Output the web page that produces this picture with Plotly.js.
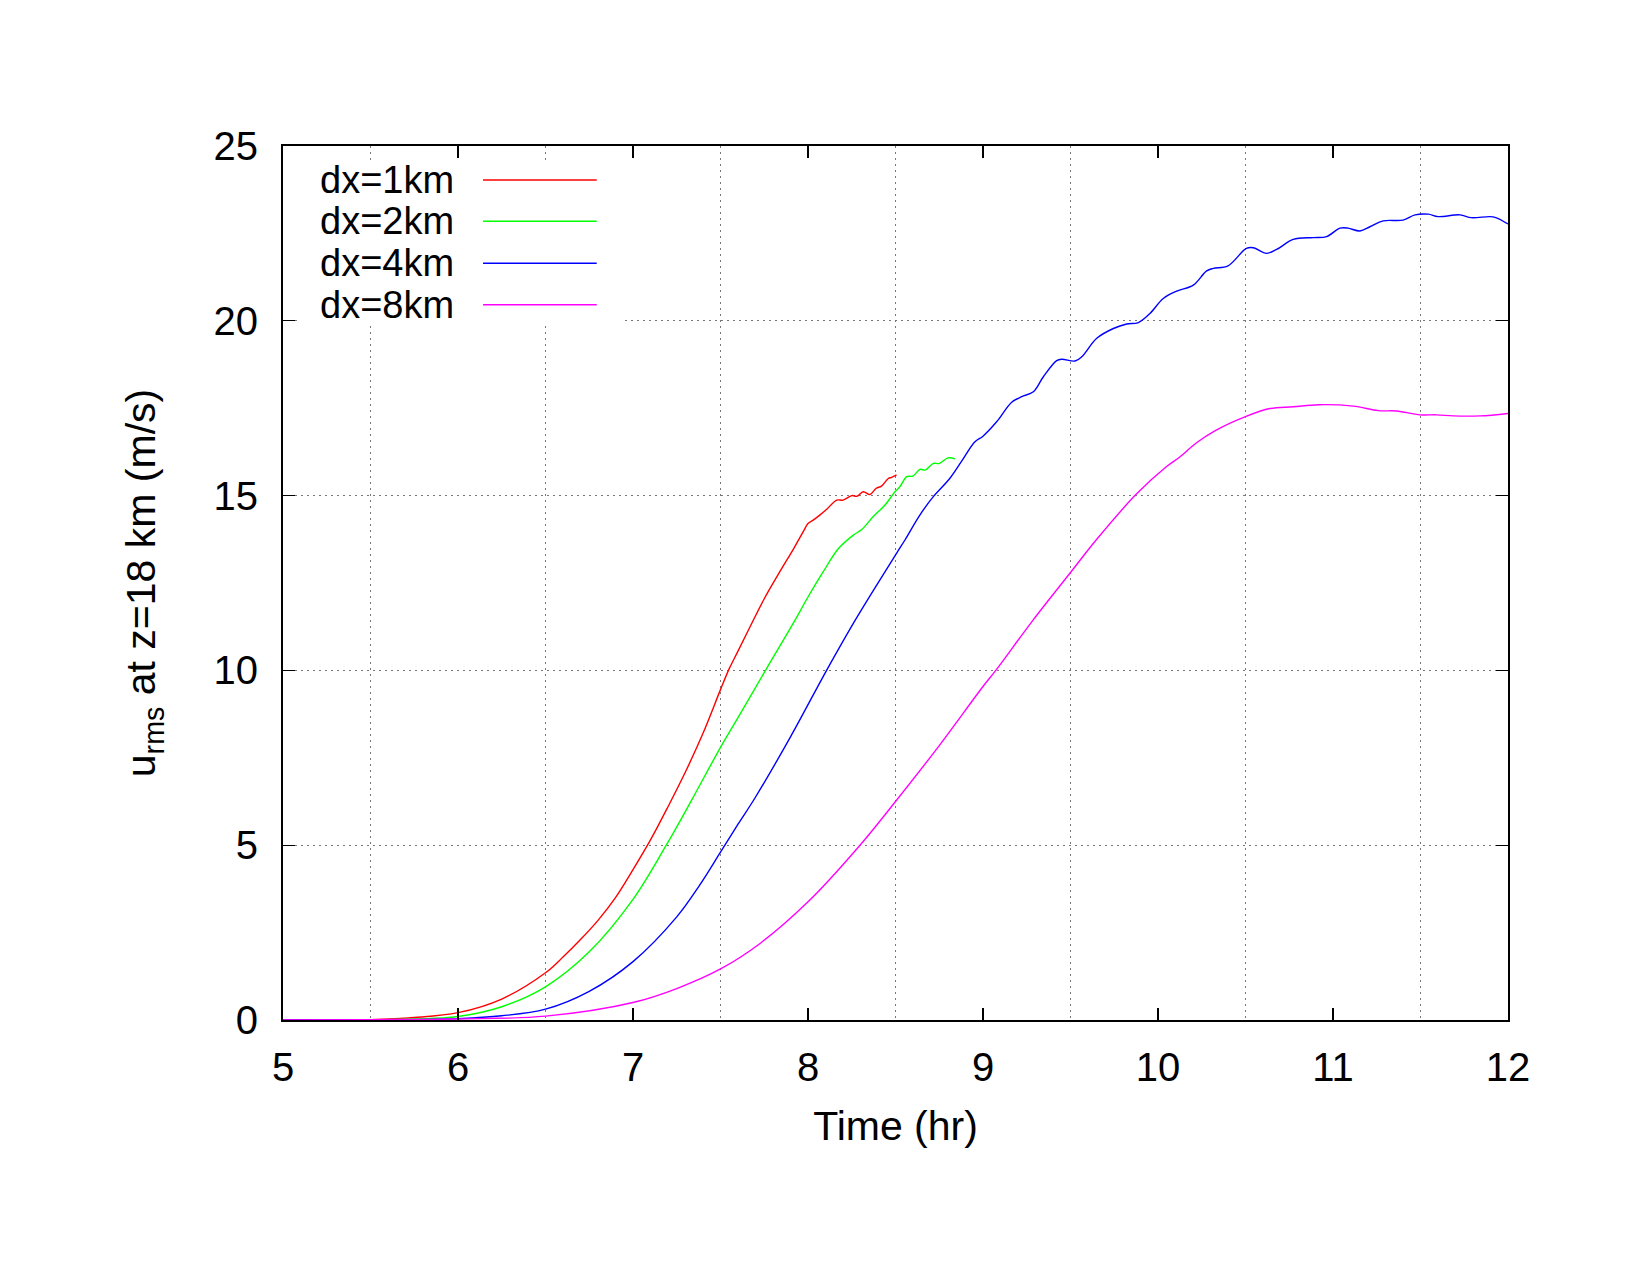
<!DOCTYPE html>
<html>
<head>
<meta charset="utf-8">
<script src="https://cdn.plot.ly/plotly-3.0.1.min.js"></script>
<style>html,body{margin:0;padding:0;background:#fff;}#chart{width:1650px;height:1275px;}</style>
</head>
<body>
<div id="chart"></div>
<script>
// ---- data ----
const seriesNames = ['dx=1km', 'dx=2km', 'dx=4km', 'dx=8km'];
const seriesColors = ['#ff0000', '#00ff00', '#0000ff', '#ff00ff'];

const t1 = [5.0,5.25,5.5,5.75,6.0,6.25,6.5,6.6,6.7,6.8,6.9,7.0,7.1,7.2,7.3,7.4,7.5,7.55,7.6,7.669,7.75,7.84,7.92,7.973,8.0,8.03,8.069,8.107,8.164,8.2,8.25,8.28,8.316,8.354,8.39,8.42,8.459,8.478,8.506];
const u1 = [0,0.003,0.01,0.07,0.21,0.6,1.35,1.8,2.3,2.85,3.5,4.3,5.15,6.1,7.1,8.2,9.45,10.05,10.55,11.25,12.05,12.83,13.5,13.97,14.2,14.3,14.45,14.61,14.87,14.87,15.0,14.98,15.11,15.03,15.21,15.27,15.49,15.52,15.59];

const t2 = [5.0,5.5,5.75,6.0,6.25,6.5,6.75,7.0,7.19,7.335,7.5,7.6,7.764,7.916,8.0,8.088,8.173,8.259,8.307,8.373,8.44,8.497,8.526,8.564,8.6,8.64,8.67,8.716,8.75,8.8,8.84];
const u2 = [0,0.005,0.03,0.1,0.38,0.95,1.95,3.45,5.0,6.29,7.8,8.65,10.06,11.35,12.1,12.83,13.48,13.87,14.03,14.4,14.73,15.11,15.26,15.54,15.56,15.75,15.73,15.92,15.92,16.08,16.05];

const t4 = [5.0,5.5,6.0,6.25,6.5,6.75,7.0,7.25,7.38,7.5,7.6,7.697,7.9,8.107,8.27,8.506,8.554,8.64,8.716,8.81,8.88,8.954,9.0,9.078,9.164,9.221,9.288,9.345,9.421,9.45,9.526,9.564,9.65,9.745,9.821,9.888,9.954,10.03,10.107,10.202,10.278,10.316,10.4,10.505,10.545,10.62,10.678,10.773,10.887,10.964,11.04,11.086,11.154,11.211,11.287,11.4,11.469,11.545,11.6,11.726,11.79,11.897,11.93,12.0];
const u4 = [0,0.005,0.04,0.12,0.31,0.82,1.67,2.95,3.85,4.8,5.6,6.35,8.1,10.01,11.44,13.35,13.73,14.45,14.97,15.49,16.0,16.54,16.7,17.11,17.67,17.83,17.97,18.4,18.86,18.9,18.85,18.97,19.5,19.78,19.91,19.95,20.21,20.64,20.85,21.02,21.43,21.5,21.57,22.07,22.09,21.93,22.04,22.33,22.38,22.41,22.65,22.65,22.57,22.69,22.86,22.88,23.03,23.05,22.98,23.03,22.95,22.98,22.95,22.77];

const t8 = [5.0,5.5,6.0,6.5,7.0,7.25,7.5,7.726,8.0,8.297,8.5,8.75,9.0,9.073,9.286,9.5,9.65,9.878,10.049,10.126,10.22,10.335,10.5,10.64,10.773,10.916,11.116,11.259,11.364,11.497,11.592,11.687,11.84,12.0];
const u8 = [0,0.01,0.03,0.11,0.5,0.9,1.46,2.19,3.38,5.0,6.25,7.85,9.54,10.0,11.44,12.8,13.75,15.05,15.83,16.11,16.51,16.88,17.26,17.49,17.54,17.6,17.56,17.43,17.42,17.31,17.31,17.28,17.28,17.35];

const xTickVals = [5, 6, 7, 8, 9, 10, 11, 12];
const yTickVals = [0, 5, 10, 15, 20, 25];
const xTitle = 'Time (hr)';
const yTitle = 'u<sub>rms</sub> at z=18 km (m/s)';

// ---- build ----
const FONT = 'Liberation Sans, Arial, Helvetica, sans-serif';
const xs = [t1, t2, t4, t8];
const ys = [u1, u2, u4, u8];

const traces = xs.map((x, i) => ({
  type: 'scatter', mode: 'lines', x: x, y: ys[i], name: seriesNames[i],
  line: {color: seriesColors[i], width: 1.4, shape: 'spline', smoothing: 1.0, simplify: false},
  showlegend: false, hoverinfo: 'skip'
}));

// custom gnuplot-style key (text, then sample line)
const shapes = [{
  type: 'rect', xref: 'paper', yref: 'paper', layer: 'above',
  x0: 0.0114, x1: 0.2759, y0: 0.794, y1: 0.984,
  fillcolor: '#ffffff', line: {width: 0}
}];
const annotations = [];
const rowY = [0.9611, 0.9139, 0.8658, 0.8184];
seriesNames.forEach((n, i) => {
  annotations.push({
    xref: 'paper', yref: 'paper', x: 0.1412, y: rowY[i], xanchor: 'right', yanchor: 'middle',
    text: n, showarrow: false, font: {family: FONT, size: 38, color: '#000'}
  });
  shapes.push({
    type: 'line', xref: 'paper', yref: 'paper', layer: 'above',
    x0: 0.1633, x1: 0.2561, y0: rowY[i], y1: rowY[i],
    line: {color: seriesColors[i], width: 1.4}
  });
});

const axisCommon = {
  showline: true, linecolor: '#000', linewidth: 2, mirror: 'ticks',
  ticks: 'inside', ticklen: 12, tickwidth: 1.2, tickcolor: '#000',
  zeroline: false, tickfont: {family: FONT, size: 40, color: '#000'}
};

const layout = {
  width: 1650, height: 1275,
  paper_bgcolor: '#fff', plot_bgcolor: '#fff',
  margin: {l: 283, r: 142, t: 146, b: 255},
  font: {family: FONT, color: '#000'},
  xaxis: Object.assign({}, axisCommon, {
    range: [5, 12], tickvals: xTickVals, ticktext: xTickVals.map(String),
    showgrid: false, ticklabelstandoff: 11,
    minor: {tick0: 5.5, dtick: 1, showgrid: true, gridcolor: '#777', gridwidth: 1.2, griddash: '2px,4px', ticks: ''},
    title: {text: xTitle, font: {family: FONT, size: 41, color: '#000'}, standoff: 23}
  }),
  yaxis: Object.assign({}, axisCommon, {
    range: [0, 25], tickvals: yTickVals, ticktext: yTickVals.map(String),
    showgrid: true, gridcolor: '#777', gridwidth: 1.2, griddash: '2px,4px',
    ticklabelstandoff: 15,
    title: {text: yTitle, font: {family: FONT, size: 41, color: '#000'}, standoff: 45}
  }),
  shapes: shapes,
  annotations: annotations
};

Plotly.newPlot('chart', traces, layout, {displayModeBar: false, staticPlot: true});
</script>
</body>
</html>
